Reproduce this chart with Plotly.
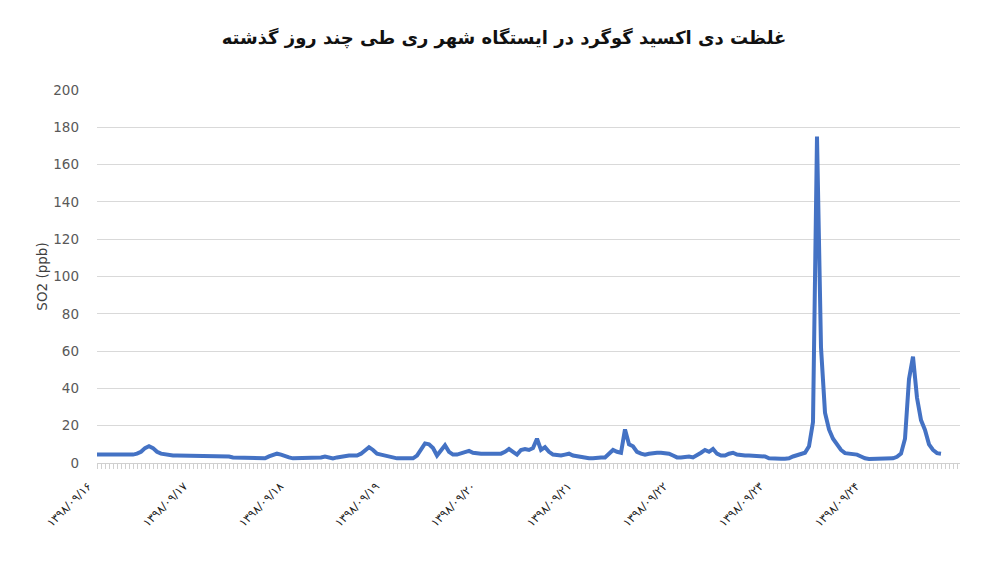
import plotly.graph_objects as go

title_text = "غلظت دی اکسید گوگرد در ایستگاه شهر ری طی چند روز گذشته"
y_title = "SO2 (ppb)"

# hourly SO2 readings (ppb), hour index 0..211
so2 = [
    4.5, 4.5, 4, 4, 4, 4, 4, 4.5, 4.5, 4.5,
    5, 6, 8, 9, 8, 6, 5, 4.5, 4.5, 4,
    4, 4, 4, 4, 4, 4, 4, 4, 4, 3.5,
    3.5, 3.5, 3.5, 3.5, 3, 3, 3, 3, 3, 3,
    2.5, 2.5, 2.5, 3.5, 4.5, 5, 4.5, 3.5, 3, 2.5,
    2.5, 2.5, 2.5, 2.5, 2.5, 2.5, 3, 3.5, 3, 2.5,
    3, 3.5, 4, 4, 4, 4, 5, 7, 8.5, 7,
    5, 4.5, 4, 3, 2.5, 2.5, 2.5, 2.5, 2.5, 2.5,
    4, 7, 10.5, 10, 8, 4, 7, 9.5, 6, 4.5,
    4.5, 5, 6, 6.5, 5.5, 5, 5, 5, 5, 5,
    5, 5, 6, 7.5, 6, 4.5, 7, 7.5, 7, 8,
    13, 7, 8.5, 6, 4.5, 4, 4, 4.5, 5, 4,
    3.5, 3, 2.5, 2.5, 2.5, 3, 3, 3, 5, 7,
    6, 5.5, 18, 10, 9, 6, 5, 4.5, 5, 5.5,
    5.5, 5.5, 5.5, 5, 4, 3, 3, 3.5, 3.5, 3,
    4, 5.5, 7, 6, 7.5, 5, 4, 4, 5, 5.5,
    4.5, 4, 4, 4, 4, 4, 4, 3.5, 2.5, 2.3,
    2.3, 2.3, 2.3, 2.5, 3.5, 4, 4.5, 5.5, 9, 22,
    175, 62, 27, 18, 13, 10, 7, 5.3, 5, 5,
    4.5, 3.5, 2.5, 2.2, 2.2, 2.2, 2.2, 2.2, 2.2, 2.5,
    3.3, 5, 13, 45, 57, 35, 23, 17.7, 10, 7,
    5.3, 5,
]
hours = list(range(len(so2)))

day_ticks = [0, 24, 48, 72, 96, 120, 144, 168, 192]
day_labels = [
    "۱۳۹۸/۰۹/۱۶", "۱۳۹۸/۰۹/۱۷", "۱۳۹۸/۰۹/۱۸", "۱۳۹۸/۰۹/۱۹", "۱۳۹۸/۰۹/۲۰",
    "۱۳۹۸/۰۹/۲۱", "۱۳۹۸/۰۹/۲۲", "۱۳۹۸/۰۹/۲۳", "۱۳۹۸/۰۹/۲۴",
]

fig = go.Figure()
fig.add_trace(go.Scatter(
    x=hours, y=so2, mode="lines",
    line=dict(color="#4472C4", width=4),
    showlegend=False, hoverinfo="skip",
))

# page has an 8px body margin, so the figure is sized/offset to compensate
W, H = 992, 554
ml, mr, mt, mb = 89, 40, 82, 99
pw, ph = W - ml - mr, H - mt - mb

fig.update_layout(
    width=W, height=H,
    margin=dict(l=ml, r=mr, t=mt, b=mb),
    paper_bgcolor="white", plot_bgcolor="white",
    font=dict(family="DejaVu Sans, Liberation Sans, sans-serif", color="#595959", size=12),
    title=dict(
        text=title_text, x=0.5, xanchor="center", y=1 - 30 / H, yanchor="middle",
        font=dict(family="DejaVu Sans, sans-serif", size=18, color="#111111", weight="bold"),
    ),
    xaxis=dict(
        range=[0, pw / 4.0],
        tickmode="array", tickvals=day_ticks, ticktext=day_labels,
        tickangle=-45, ticks="outside", ticklen=5, tickcolor="#d0d0d0",
        minor=dict(dtick=1, tick0=0, ticks="outside", ticklen=5, tickcolor="#d0d0d0", showgrid=False),
        showgrid=False, zeroline=False,
        showline=True, linecolor="#d0d0d0", linewidth=1,
        ticklabelstandoff=6, ticklabelshift=-9,
        tickfont=dict(size=11.5, color="#222222"),
    ),
    yaxis=dict(
        range=[0, 200], dtick=20, tick0=0,
        showgrid=True, gridcolor="#d9d9d9", gridwidth=1,
        zeroline=False, showline=False, ticks="",
        ticklabelstandoff=17,
        tickfont=dict(size=13.5, color="#595959"),
        title=dict(text=y_title, font=dict(size=13.5, color="#404040"), standoff=2),
    ),
)

fig.write_html("out.html")
